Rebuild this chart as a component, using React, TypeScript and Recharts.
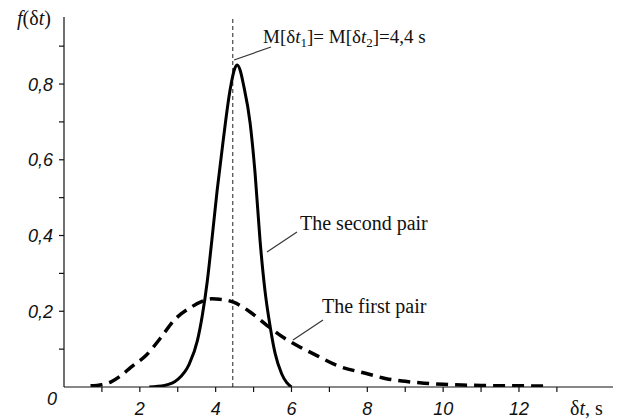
import { LineChart, Line, XAxis, YAxis, ReferenceLine } from "recharts";

// second pair (solid)
const secondX = [2.25, 2.65, 3.0, 3.3, 3.52, 3.65, 3.78, 3.9, 4.04, 4.2, 4.38, 4.5, 4.57, 4.65, 4.73, 4.91, 5.04, 5.17, 5.3, 5.44, 5.57, 5.74, 5.87, 6.0];
const secondY = [0.0, 0.004, 0.02, 0.06, 0.123, 0.19, 0.28, 0.388, 0.52, 0.652, 0.784, 0.84, 0.85, 0.835, 0.8, 0.696, 0.564, 0.388, 0.255, 0.158, 0.088, 0.035, 0.012, 0.0];

// first pair (dashed)
const firstX = [0.7, 1.0, 1.23, 1.5, 1.76, 2.16, 2.55, 2.9, 3.34, 3.64, 3.9, 4.1, 4.47, 4.91, 5.35, 5.83, 6.23, 6.67, 7.2, 8.0, 8.5, 9.0, 9.5, 10.0, 10.5, 11.0, 11.6, 12.2, 12.8];
const firstY = [0.003, 0.006, 0.013, 0.03, 0.052, 0.083, 0.13, 0.176, 0.21, 0.226, 0.233, 0.232, 0.224, 0.198, 0.163, 0.128, 0.105, 0.083, 0.057, 0.035, 0.022, 0.015, 0.01, 0.007, 0.005, 0.004, 0.003, 0.003, 0.002];

const xTicks = [1, 2, 3, 4, 5, 6, 7, 8, 9, 10, 11, 12, 13];
const yTicks = [0.1, 0.2, 0.3, 0.4, 0.5, 0.6, 0.7, 0.8, 0.9];
const meanX = 4.45;

const secondData = secondX.map((x, i) => ({ x, y: secondY[i] }));
const firstData = firstX.map((x, i) => ({ x, y: firstY[i] }));

const sans = "'Liberation Sans', Arial, sans-serif";
const serif = "'Liberation Serif', 'Times New Roman', serif";
const ink = "#111";

const XTick = ({ x, y, payload }: any) => {
  const v = payload.value;
  if (v % 2 !== 0) return <g />;
  return (
    <text x={x} y={y + 21} textAnchor="middle" fontFamily={sans} fontStyle="italic" fontSize={18} fill={ink}>
      {v}
    </text>
  );
};

const YTick = ({ x, y, payload }: any) => {
  const v = payload.value;
  if (Math.round(v * 10) % 2 !== 0) return <g />;
  return (
    <text x={x - 4} y={y + 6.5} textAnchor="end" fontFamily={sans} fontStyle="italic" fontSize={18} fill={ink}>
      {v.toFixed(1).replace(".", ",")}
    </text>
  );
};

export default function App() {
  return (
    <div style={{ position: "absolute", left: 0, top: 0, width: 617, height: 420, background: "#fff" }}>
      <LineChart width={617} height={420} margin={{ top: 17, right: 4, left: 0, bottom: 0 }}>
        <XAxis
          dataKey="x"
          type="number"
          domain={[0, 14.48]}
          ticks={xTicks}
          tick={<XTick />}
          tickSize={5}
          height={33}
          allowDataOverflow
          stroke={ink}
          strokeWidth={1.2}
        />
        <YAxis
          type="number"
          domain={[0, 0.977]}
          ticks={yTicks}
          tick={<YTick />}
          tickSize={5}
          width={64}
          allowDataOverflow
          stroke={ink}
          strokeWidth={1.2}
        />
        <ReferenceLine x={meanX} stroke="#555" strokeWidth={1.3} strokeDasharray="4 3" />
        <Line
          data={firstData}
          dataKey="y"
          type="monotone"
          stroke="#000"
          strokeWidth={3.5}
          strokeDasharray="12 7"
          dot={false}
          isAnimationActive={false}
        />
        <Line
          data={secondData}
          dataKey="y"
          type="monotone"
          stroke="#000"
          strokeWidth={3}
          dot={false}
          isAnimationActive={false}
        />
      </LineChart>
      <svg width={617} height={420} style={{ position: "absolute", left: 0, top: 0, pointerEvents: "none" }}>
        <text x={17} y={25} fontFamily={serif} fontSize={20} fill={ink}>
          <tspan fontStyle="italic">f</tspan>(δ<tspan fontStyle="italic">t</tspan>)
        </text>
        <text x={52} y={405} textAnchor="middle" fontFamily={sans} fontStyle="italic" fontSize={18} fill={ink}>0</text>
        <text x={570} y={415} fontFamily={serif} fontSize={20} fill={ink}>
          δ<tspan fontStyle="italic">t</tspan>, s
        </text>
        <line x1={234} y1={60} x2={271} y2={47} stroke="#333" strokeWidth={1.2} />
        <text x={263} y={43} fontFamily={serif} fontSize={19} fill={ink}>
          M[δ<tspan fontStyle="italic">t</tspan><tspan fontSize={13} dy={4}>1</tspan><tspan dy={-4}>]= M[δ</tspan><tspan fontStyle="italic">t</tspan><tspan fontSize={13} dy={4}>2</tspan><tspan dy={-4}>]=4,4 s</tspan>
        </text>
        <line x1={267} y1={252} x2={297} y2={232} stroke="#333" strokeWidth={1.2} />
        <text x={300} y={230} fontFamily={serif} fontSize={20} fill={ink}>The second pair</text>
        <line x1={293} y1={340} x2={323} y2={320} stroke="#333" strokeWidth={1.2} />
        <text x={322} y={313} fontFamily={serif} fontSize={20} fill={ink}>The first pair</text>
      </svg>
    </div>
  );
}
